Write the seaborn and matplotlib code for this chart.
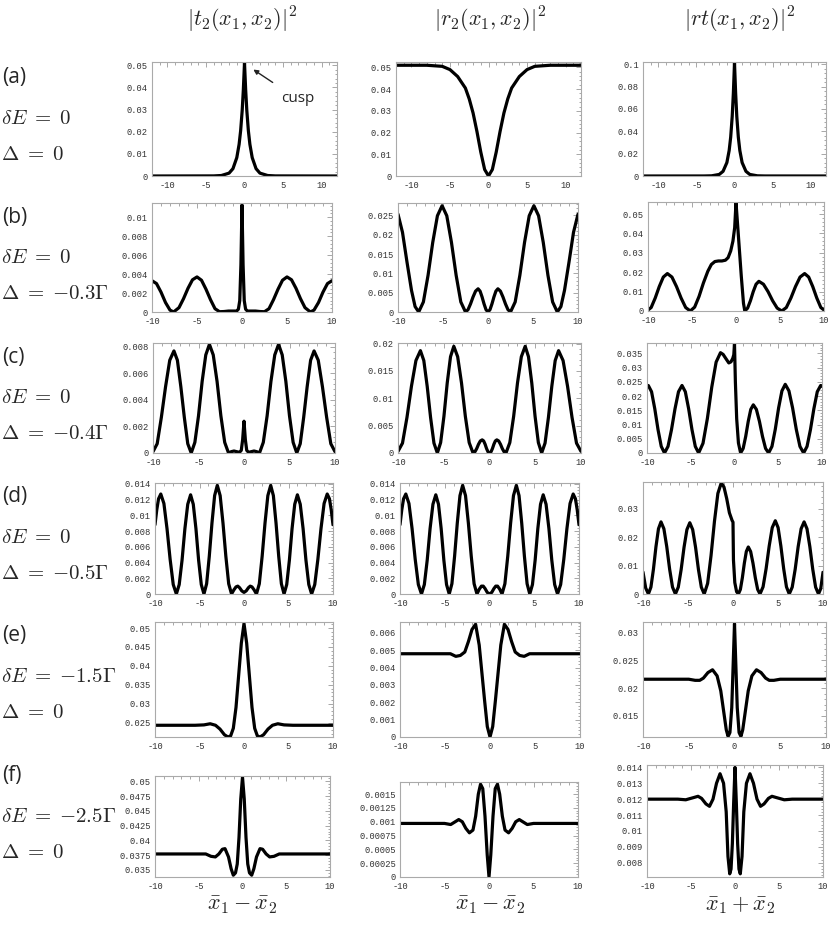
import matplotlib
matplotlib.use("Agg")
import matplotlib.pyplot as plt
import seaborn as sns
from matplotlib.ticker import AutoMinorLocator

# ---- data ----------------------------------------------------------------
# row (a): dE = 0, Delta = 0   (x from -12 to 12)
x_a_t = [-12, -4, -3, -2, -1.5, -1, -0.7, -0.5, -0.3, -0.15, 0, 0.15, 0.3, 0.5, 0.7, 1, 1.5, 2, 3, 4, 12]
y_a_t = [0, 0.00004, 0.00022, 0.0013, 0.0033, 0.0083, 0.0143, 0.0205, 0.0296, 0.039, 0.051,
         0.039, 0.0296, 0.0205, 0.0143, 0.0083, 0.0033, 0.0013, 0.00022, 0.00004, 0]
x_a_r = [-12, -8, -6, -5, -4, -3, -2.5, -2, -1.5, -1, -0.5, 0, 0.5, 1, 1.5, 2, 2.5, 3, 4, 5, 6, 8, 12]
y_a_r = [0.051, 0.051, 0.0505, 0.049, 0.0458, 0.0405, 0.0355, 0.029, 0.0205, 0.011, 0.003, 0,
         0.003, 0.011, 0.0205, 0.029, 0.0355, 0.0405, 0.0458, 0.049, 0.0505, 0.051, 0.051]
x_a_rt = [-12, -4, -3, -2, -1.5, -1, -0.7, -0.5, -0.3, -0.15, 0, 0.15, 0.3, 0.5, 0.7, 1, 1.5, 2, 3, 4, 12]
y_a_rt = [0, 0.00002, 0.00017, 0.0014, 0.0042, 0.012, 0.0228, 0.0348, 0.0534, 0.074, 0.101,
          0.074, 0.0534, 0.0348, 0.0228, 0.012, 0.0042, 0.0014, 0.00017, 0.00002, 0]

# row (b): dE = 0, Delta = -0.3 Gamma
x_b_t = [-10, -9.5, -9, -8.5, -8, -7.6, -7, -6.5, -6, -5.5, -5, -4.5, -4, -3.5, -3, -2.5, -2, -1.5, -1,
         -0.6, -0.4, -0.25, -0.12, 0, 0.12, 0.25, 0.4, 0.6, 1, 1.5, 2, 2.5, 3, 3.5, 4, 4.5, 5, 5.5,
         6, 6.5, 7, 7.6, 8, 8.5, 9, 9.5, 10]
y_b_t = [0.0033, 0.0030, 0.0021, 0.001, 0.0002, 0, 0.00046, 0.0014, 0.0025, 0.0034, 0.0037, 0.00335,
         0.0024, 0.0013, 0.00035, 0.00003, 0.00005, 0.0001, 0.0001, 0.0001, 0.0003, 0.0012, 0.005,
         0.0113, 0.005, 0.0012, 0.0003, 0.0001, 0.0001, 0.0001, 0.00005, 0.00003, 0.00035, 0.0013,
         0.0024, 0.00335, 0.0037, 0.0034, 0.0025, 0.0014, 0.00046, 0, 0.0002, 0.001, 0.0021, 0.0030, 0.0033]
x_b_r = [-10, -9.5, -9.0, -8.5, -8.1, -7.7, -7.18, -6.66, -6.14, -5.62, -5.1, -4.58, -4.06, -3.54,
         -3.02, -2.5, -2.22, -1.94, -1.66, -1.38, -1.1, -0.88, -0.66, -0.44, -0.22, 0,
         0.22, 0.44, 0.66, 0.88, 1.1, 1.38, 1.66, 1.94, 2.22, 2.5, 3.02, 3.54, 4.06, 4.58, 5.1,
         5.62, 6.14, 6.66, 7.18, 7.7, 8.1, 8.5, 9.0, 9.5, 10]
y_b_r = [0.0253, 0.0206, 0.0129, 0.0056, 0.0014, 0, 0.0026, 0.0095, 0.018, 0.0249, 0.0275, 0.0249,
         0.018, 0.0095, 0.0026, 0, 0.0006, 0.0021, 0.0039, 0.0054, 0.006, 0.0054, 0.0039, 0.0021,
         0.0006, 0,
         0.0006, 0.0021, 0.0039, 0.0054, 0.006, 0.0054, 0.0039, 0.0021, 0.0006, 0, 0.0026, 0.0095,
         0.018, 0.0249, 0.0275, 0.0249, 0.018, 0.0095, 0.0026, 0, 0.0014, 0.0056, 0.0129, 0.0206, 0.0253]
x_b_rt = [-10, -9.64, -9.18, -8.72, -8.26, -7.8, -7.28, -6.76, -6.24, -5.72, -5.2, -4.7, -4.2, -3.7,
          -3.2, -2.8, -2.4, -2.0, -1.6, -1.2, -0.9, -0.6, -0.35, -0.15, 0, 0.3, 0.6, 0.85, 1.0, 1.32,
          1.64, 1.96, 2.28, 2.6, 3.12, 3.64, 4.16, 4.68, 5.2, 5.72, 6.24, 6.76, 7.28, 7.8, 8.26, 8.72,
          9.18, 9.64, 10]
y_b_rt = [0.0005, 0.0018, 0.0067, 0.0126, 0.0175, 0.0193, 0.0175, 0.0126, 0.0067, 0.0018, 0, 0.002,
          0.0075, 0.0145, 0.0205, 0.024, 0.0255, 0.0258, 0.0258, 0.0262, 0.0275, 0.031, 0.036, 0.043,
          0.056, 0.037, 0.018, 0.004, 0, 0.0015, 0.0053, 0.01, 0.0138, 0.0153, 0.0138, 0.01, 0.0053,
          0.0015, 0, 0.0018, 0.0067, 0.0126, 0.0175, 0.0193, 0.0175, 0.0126, 0.0067, 0.0018, 0.0005]

# row (c): dE = 0, Delta = -0.4 Gamma
x_c_t = [-10, -9.54, -9.08, -8.62, -8.16, -7.7, -7.32, -6.94, -6.56, -6.18, -5.8, -5.4, -5.0, -4.6,
         -4.2, -3.8, -3.38, -2.96, -2.54, -2.12, -1.7, -1.4, -1.1, -0.8, -0.5, -0.3, -0.15, 0,
         0.15, 0.3, 0.5, 0.8, 1.1, 1.4, 1.7, 2.12, 2.54, 2.96, 3.38, 3.8, 4.2, 4.6, 5.0, 5.4, 5.8,
         6.18, 6.56, 6.94, 7.32, 7.7, 8.16, 8.62, 9.08, 9.54, 10]
y_c_t = [0.0001, 0.0007, 0.0027, 0.005, 0.007, 0.0077, 0.007, 0.005, 0.0027, 0.0007, 0, 0.0008,
         0.0028, 0.0054, 0.0074, 0.0082, 0.0074, 0.0054, 0.0028, 0.0008, 0, 0.0001, 0.00015, 0.0001,
         0.00005, 0.0002, 0.001, 0.0024,
         0.001, 0.0002, 0.00005, 0.0001, 0.00015, 0.0001, 0, 0.0008, 0.0028, 0.0054, 0.0074, 0.0082,
         0.0074, 0.0054, 0.0028, 0.0008, 0, 0.0007, 0.0027, 0.005, 0.007, 0.0077, 0.007, 0.005,
         0.0027, 0.0007, 0.0001]
x_c_r = [-10, -9.51, -9.02, -8.53, -8.04, -7.55, -7.18, -6.81, -6.44, -6.07, -5.7, -5.34, -4.98,
         -4.62, -4.26, -3.9, -3.48, -3.06, -2.64, -2.22, -1.8, -1.6, -1.4, -1.2, -1.0, -0.8, -0.64,
         -0.48, -0.32, -0.16, 0,
         0.16, 0.32, 0.48, 0.64, 0.8, 1.0, 1.2, 1.4, 1.6, 1.8, 2.22, 2.64, 3.06, 3.48, 3.9, 4.26,
         4.62, 4.98, 5.34, 5.7, 6.07, 6.44, 6.81, 7.18, 7.55, 8.04, 8.53, 9.02, 9.51, 10]
y_c_r = [0.0003, 0.0018, 0.0065, 0.0122, 0.0169, 0.0187, 0.0169, 0.0122, 0.0065, 0.0018, 0, 0.0019,
         0.0067, 0.0128, 0.0176, 0.0195, 0.0176, 0.0128, 0.0067, 0.0019, 0, 0.0002, 0.0008, 0.0016,
         0.0022, 0.0024, 0.0022, 0.0016, 0.0008, 0.0002, 0,
         0.0002, 0.0008, 0.0016, 0.0022, 0.0024, 0.0022, 0.0016, 0.0008, 0.0002, 0, 0.0019, 0.0067,
         0.0128, 0.0176, 0.0195, 0.0176, 0.0128, 0.0067, 0.0019, 0, 0.0018, 0.0065, 0.0122, 0.0169,
         0.0187, 0.0169, 0.0122, 0.0065, 0.0018, 0.0003]
x_c_rt = [-10, -9.85, -9.48, -9.11, -8.74, -8.37, -8.0, -7.6, -7.2, -6.8, -6.4, -6.0, -5.62, -5.24,
          -4.86, -4.48, -4.1, -3.6, -3.1, -2.6, -2.1, -1.6, -1.3, -1.0, -0.65, -0.4, -0.2, -0.08, 0,
          0.1, 0.25, 0.45, 0.7, 0.99, 1.28, 1.57, 1.86, 2.15, 2.5, 2.85, 3.2, 3.55, 3.9, 4.28, 4.66,
          5.04, 5.42, 5.8, 6.22, 6.64, 7.06, 7.48, 7.9, 8.29, 8.68, 9.07, 9.46, 9.85, 10]
y_c_rt = [0.0235, 0.0237, 0.0215, 0.0155, 0.0082, 0.0023, 0, 0.0023, 0.0082, 0.0155, 0.0215, 0.0237,
          0.0215, 0.0155, 0.0082, 0.0023, 0, 0.0034, 0.0121, 0.0231, 0.0319, 0.0352, 0.0346, 0.0332,
          0.0316, 0.032, 0.0332, 0.0345, 0.0383, 0.025, 0.012, 0.0035, 0, 0.0016, 0.0058, 0.0111,
          0.0153, 0.0169, 0.0153, 0.0111, 0.0058, 0.0016, 0, 0.0023, 0.0083, 0.0158, 0.0218, 0.0241,
          0.0218, 0.0158, 0.0083, 0.0023, 0, 0.0023, 0.0082, 0.0155, 0.0215, 0.0237, 0.0235]

# row (d): dE = 0, Delta = -0.5 Gamma
x_d_t = [-10, -9.8, -9.6, -9.35, -9.0, -8.65, -8.3, -7.95, -7.6, -7.28, -6.96, -6.64, -6.32, -6.0,
         -5.7, -5.4, -5.1, -4.8, -4.5, -4.2, -3.9, -3.6, -3.3, -3.0, -2.68, -2.36, -2.04, -1.72, -1.4,
         -1.15, -0.9, -0.7, -0.5, -0.25, 0,
         0.25, 0.5, 0.7, 0.9, 1.15, 1.4, 1.72, 2.04, 2.36, 2.68, 3.0, 3.3, 3.6, 3.9, 4.2, 4.5, 4.8,
         5.1, 5.4, 5.7, 6.0, 6.32, 6.64, 6.96, 7.28, 7.6, 7.95, 8.3, 8.65, 9.0, 9.35, 9.6, 9.8, 10]
y_d_t = [0.0088, 0.0107, 0.0121, 0.0127, 0.0115, 0.0083, 0.0044, 0.0012, 0, 0.0012, 0.0043, 0.0083,
         0.0114, 0.0126, 0.0114, 0.0083, 0.0043, 0.0012, 0, 0.0013, 0.0048, 0.009, 0.0125, 0.0138,
         0.0125, 0.009, 0.0048, 0.0013, 0, 0.0005, 0.0009, 0.001, 0.0008, 0.0004, 0.0002,
         0.0004, 0.0008, 0.001, 0.0009, 0.0005, 0, 0.0013, 0.0048, 0.009, 0.0125, 0.0138, 0.0125,
         0.009, 0.0048, 0.0013, 0, 0.0012, 0.0043, 0.0083, 0.0114, 0.0126, 0.0114, 0.0083, 0.0043,
         0.0012, 0, 0.0012, 0.0044, 0.0083, 0.0115, 0.0127, 0.0121, 0.0107, 0.0088]
x_d_r = [-10, -9.8, -9.6, -9.35, -9.0, -8.65, -8.3, -7.95, -7.6, -7.28, -6.96, -6.64, -6.32, -6.0,
         -5.7, -5.4, -5.1, -4.8, -4.5, -4.2, -3.9, -3.6, -3.3, -3.0, -2.68, -2.36, -2.04, -1.72, -1.4,
         -1.15, -0.9, -0.7, -0.5, -0.25, 0,
         0.25, 0.5, 0.7, 0.9, 1.15, 1.4, 1.72, 2.04, 2.36, 2.68, 3.0, 3.3, 3.6, 3.9, 4.2, 4.5, 4.8,
         5.1, 5.4, 5.7, 6.0, 6.32, 6.64, 6.96, 7.28, 7.6, 7.95, 8.3, 8.65, 9.0, 9.35, 9.6, 9.8, 10]
y_d_r = [0.0088, 0.0107, 0.0121, 0.0127, 0.0115, 0.0083, 0.0044, 0.0012, 0, 0.0012, 0.0043, 0.0083,
         0.0114, 0.0126, 0.0114, 0.0083, 0.0043, 0.0012, 0, 0.0013, 0.0048, 0.009, 0.0125, 0.0138,
         0.0125, 0.009, 0.0048, 0.0013, 0, 0.0006, 0.001, 0.001, 0.0007, 0.0002, 0,
         0.0002, 0.0007, 0.001, 0.001, 0.0006, 0, 0.0013, 0.0048, 0.009, 0.0125, 0.0138, 0.0125,
         0.009, 0.0048, 0.0013, 0, 0.0012, 0.0043, 0.0083, 0.0114, 0.0126, 0.0114, 0.0083, 0.0043,
         0.0012, 0, 0.0012, 0.0044, 0.0083, 0.0115, 0.0127, 0.0121, 0.0107, 0.0088]
x_d_rt = [-10, -9.7, -9.4, -9.12, -8.84, -8.56, -8.28, -8.0, -7.68, -7.36, -7.04, -6.72, -6.4, -6.08,
          -5.76, -5.44, -5.12, -4.8, -4.48, -4.16, -3.84, -3.52, -3.2, -2.82, -2.44, -2.06, -1.68,
          -1.3, -1.0, -0.7, -0.4, -0.1, 0, 0.05, 0.2, 0.4, 0.6, 0.82, 1.04, 1.26, 1.48, 1.7, 1.96,
          2.22, 2.48, 2.74, 3.0, 3.34, 3.68, 4.02, 4.36, 4.7, 5.01, 5.32, 5.63, 5.94, 6.25, 6.58,
          6.91, 7.24, 7.57, 7.9, 8.22, 8.54, 8.86, 9.18, 9.5, 9.75, 10]
y_d_rt = [0.0077, 0.0021, 0, 0.0024, 0.0087, 0.0166, 0.0229, 0.0253, 0.0229, 0.0166, 0.0087, 0.0024,
          0, 0.0024, 0.0086, 0.0164, 0.0226, 0.025, 0.0226, 0.0164, 0.0086, 0.0024, 0, 0.0037,
          0.0135, 0.0255, 0.0353, 0.039, 0.0375, 0.0335, 0.0285, 0.0258, 0.0252, 0.012, 0.004,
          0.0008, 0, 0.0016, 0.0057, 0.0108, 0.0149, 0.0165, 0.0149, 0.0108, 0.0057, 0.0016, 0,
          0.0025, 0.0089, 0.0168, 0.0233, 0.0257, 0.0233, 0.0168, 0.0089, 0.0025, 0, 0.0024, 0.0087,
          0.0166, 0.0229, 0.0253, 0.0229, 0.0166, 0.0087, 0.0024, 0, 0.0019, 0.0076]

# row (e): dE = -1.5 Gamma, Delta = 0
x_e_t = [-10, -5.5, -4.5, -3.8, -3.2, -2.7, -2.2, -1.8, -1.5, -1.2, -0.9, -0.6, -0.3, 0, 0.3, 0.6, 0.9,
         1.2, 1.5, 1.8, 2.2, 2.7, 3.2, 3.8, 4.5, 5.5, 10]
y_e_t = [0.0243, 0.0243, 0.0244, 0.0247, 0.0243, 0.0233, 0.0218, 0.0212, 0.0215, 0.0235, 0.029, 0.0375,
         0.046, 0.0512, 0.046, 0.0375, 0.029, 0.0235, 0.0215, 0.0212, 0.0218, 0.0233, 0.0243, 0.0247,
         0.0244, 0.0243, 0.0243]
x_e_r = [-10, -5, -4.4, -3.8, -3.3, -2.8, -2.4, -2, -1.6, -1.2, -0.9, -0.6, -0.3, 0, 0.3, 0.6, 0.9, 1.2,
         1.6, 2, 2.4, 2.8, 3.3, 3.8, 4.4, 5, 10]
y_e_r = [0.0048, 0.0048, 0.0048, 0.00465, 0.0047, 0.0049, 0.0055, 0.0062, 0.0065, 0.0053, 0.0037,
         0.0021, 0.0006, 0, 0.0006, 0.0021, 0.0037, 0.0053, 0.0065, 0.0062, 0.0055, 0.0049, 0.0047,
         0.00465, 0.0048, 0.0048, 0.0048]
x_e_rt = [-10, -5, -4.3, -3.8, -3.4, -2.9, -2.4, -1.9, -1.5, -1.2, -0.9, -0.7, -0.5, -0.3, -0.15, 0,
          0.15, 0.3, 0.5, 0.7, 0.9, 1.2, 1.5, 1.9, 2.4, 2.9, 3.4, 3.8, 4.3, 5, 10]
y_e_rt = [0.0216, 0.0216, 0.0214, 0.0214, 0.0218, 0.0228, 0.0233, 0.0222, 0.0195, 0.016, 0.0125,
          0.0113, 0.012, 0.0165, 0.024, 0.0316, 0.024, 0.0165, 0.012, 0.0113, 0.0125, 0.016, 0.0195,
          0.0222, 0.0233, 0.0228, 0.0218, 0.0214, 0.0214, 0.0216, 0.0216]

# row (f): dE = -2.5 Gamma, Delta = 0
x_f_t = [-10, -4.2, -3.6, -3.1, -2.7, -2.3, -2, -1.6, -1.3, -1.05, -0.8, -0.6, -0.4, -0.2, 0, 0.2, 0.4,
         0.6, 0.8, 1.05, 1.3, 1.6, 2, 2.3, 2.7, 3.1, 3.6, 4.2, 10]
y_f_t = [0.0377, 0.0377, 0.0373, 0.0372, 0.0377, 0.0385, 0.0386, 0.0372, 0.0352, 0.0341, 0.0345,
         0.036, 0.0405, 0.047, 0.0507, 0.047, 0.0405, 0.036, 0.0345, 0.0341, 0.0352, 0.0372, 0.0386,
         0.0385, 0.0377, 0.0372, 0.0373, 0.0377, 0.0377]
x_f_r = [-10, -5, -4.3, -3.8, -3.4, -3, -2.6, -2.2, -1.8, -1.5, -1.2, -0.95, -0.7, -0.45, -0.2, 0, 0.2,
         0.45, 0.7, 0.95, 1.2, 1.5, 1.8, 2.2, 2.6, 3, 3.4, 3.8, 4.3, 5, 10]
y_f_r = [0.00097, 0.00097, 0.00095, 0.001, 0.00104, 0.001, 0.00088, 0.0008, 0.00085, 0.0011, 0.0015,
         0.00168, 0.0016, 0.0011, 0.0004, 0, 0.0004, 0.0011, 0.0016, 0.00168, 0.0015, 0.0011, 0.00085,
         0.0008, 0.00088, 0.001, 0.00104, 0.001, 0.00095, 0.00097, 0.00097]
x_f_rt = [-10, -6.5, -5.6, -4.7, -4.2, -3.8, -3.3, -2.9, -2.5, -2.1, -1.7, -1.3, -1, -0.8, -0.6, -0.45,
          -0.3, -0.15, 0, 0.15, 0.3, 0.45, 0.6, 0.8, 1, 1.3, 1.7, 2.1, 2.5, 2.9, 3.3, 3.8, 4.2, 4.7,
          5.6, 6.5, 10]
y_f_rt = [0.012, 0.012, 0.01196, 0.0121, 0.01218, 0.01205, 0.0117, 0.01155, 0.012, 0.013, 0.0136,
          0.013, 0.0112, 0.0084, 0.0073, 0.0076, 0.0092, 0.0118, 0.014, 0.0118, 0.0092, 0.0076, 0.0073,
          0.0084, 0.0112, 0.013, 0.0136, 0.013, 0.012, 0.01155, 0.0117, 0.01205, 0.01218, 0.0121,
          0.01196, 0.012, 0.012]

# tick values / labels
xt_wide = [-10, -5, 0, 5, 10]
yt_a_t = [0, 0.01, 0.02, 0.03, 0.04, 0.05]
yl_a_t = ["0", "0.01", "0.02", "0.03", "0.04", "0.05"]
yt_a_rt = [0, 0.02, 0.04, 0.06, 0.08, 0.1]
yl_a_rt = ["0", "0.02", "0.04", "0.06", "0.08", "0.1"]
yt_b_t = [0, 0.002, 0.004, 0.006, 0.008, 0.01]
yl_b_t = ["0", "0.002", "0.004", "0.006", "0.008", "0.01"]
yt_b_r = [0, 0.005, 0.01, 0.015, 0.02, 0.025]
yl_b_r = ["0", "0.005", "0.01", "0.015", "0.02", "0.025"]
yt_b_rt = [0, 0.01, 0.02, 0.03, 0.04, 0.05]
yl_b_rt = ["0", "0.01", "0.02", "0.03", "0.04", "0.05"]
yt_c_t = [0, 0.002, 0.004, 0.006, 0.008]
yl_c_t = ["0", "0.002", "0.004", "0.006", "0.008"]
yt_c_r = [0, 0.005, 0.01, 0.015, 0.02]
yl_c_r = ["0", "0.005", "0.01", "0.015", "0.02"]
yt_c_rt = [0, 0.005, 0.01, 0.015, 0.02, 0.025, 0.03, 0.035]
yl_c_rt = ["0", "0.005", "0.01", "0.015", "0.02", "0.025", "0.03", "0.035"]
yt_d = [0, 0.002, 0.004, 0.006, 0.008, 0.01, 0.012, 0.014]
yl_d = ["0", "0.002", "0.004", "0.006", "0.008", "0.01", "0.012", "0.014"]
yt_d_rt = [0, 0.01, 0.02, 0.03]
yl_d_rt = ["0", "0.01", "0.02", "0.03"]
yt_e_t = [0.025, 0.03, 0.035, 0.04, 0.045, 0.05]
yl_e_t = ["0.025", "0.03", "0.035", "0.04", "0.045", "0.05"]
yt_e_r = [0, 0.001, 0.002, 0.003, 0.004, 0.005, 0.006]
yl_e_r = ["0", "0.001", "0.002", "0.003", "0.004", "0.005", "0.006"]
yt_e_rt = [0.015, 0.02, 0.025, 0.03]
yl_e_rt = ["0.015", "0.02", "0.025", "0.03"]
yt_f_t = [0.035, 0.0375, 0.04, 0.0425, 0.045, 0.0475, 0.05]
yl_f_t = ["0.035", "0.0375", "0.04", "0.0425", "0.045", "0.0475", "0.05"]
yt_f_r = [0, 0.00025, 0.0005, 0.00075, 0.001, 0.00125, 0.0015]
yl_f_r = ["0", "0.00025", "0.0005", "0.00075", "0.001", "0.00125", "0.0015"]
yt_f_rt = [0.008, 0.009, 0.01, 0.011, 0.012, 0.013, 0.014]
yl_f_rt = ["0.008", "0.009", "0.01", "0.011", "0.012", "0.013", "0.014"]

col_titles = [r"$|t_2(x_1,x_2)|^2$", r"$|r_2(x_1,x_2)|^2$", r"$|rt(x_1,x_2)|^2$"]
row_tags = ["(a)", "(b)", "(c)", "(d)", "(e)", "(f)"]
row_dE = [r"$\delta E\;=\;0$", r"$\delta E\;=\;0$", r"$\delta E\;=\;0$", r"$\delta E\;=\;0$",
          r"$\delta E\;=\;{-}1.5\Gamma$", r"$\delta E\;=\;{-}2.5\Gamma$"]
row_Delta = [r"$\Delta\;=\;0$", r"$\Delta\;=\;{-}0.3\Gamma$", r"$\Delta\;=\;{-}0.4\Gamma$",
             r"$\Delta\;=\;{-}0.5\Gamma$", r"$\Delta\;=\;0$", r"$\Delta\;=\;0$"]
bottom_labels = [r"$\bar{x}_1-\bar{x}_2$", r"$\bar{x}_1-\bar{x}_2$", r"$\bar{x}_1+\bar{x}_2$"]

# ---- panels: data, ticks, limits, frame box in pixels (left, top, right, bottom)
panels = [
    (x_a_t, y_a_t, yt_a_t, yl_a_t, (0, 0.0515), (-12, 12), (152, 62, 337, 176)),
    (x_a_r, y_a_r, yt_a_t, yl_a_t, (0, 0.0525), (-12, 12), (396, 62, 581, 176)),
    (x_a_rt, y_a_rt, yt_a_rt, yl_a_rt, (0, 0.102), (-12, 12), (643, 62, 826, 176)),
    (x_b_t, y_b_t, yt_b_t, yl_b_t, (0, 0.0115), (-10, 10), (152, 203, 332, 312)),
    (x_b_r, y_b_r, yt_b_r, yl_b_r, (0, 0.0282), (-10, 10), (398, 203, 578, 312)),
    (x_b_rt, y_b_rt, yt_b_rt, yl_b_rt, (0, 0.0562), (-10, 10), (648, 202, 824, 311)),
    (x_c_t, y_c_t, yt_c_t, yl_c_t, (0, 0.0083), (-10, 10), (153, 343, 335, 453)),
    (x_c_r, y_c_r, yt_c_r, yl_c_r, (0, 0.0201), (-10, 10), (398, 343, 581, 453)),
    (x_c_rt, y_c_rt, yt_c_rt, yl_c_rt, (0, 0.0386), (-10, 10), (647, 343, 822, 453)),
    (x_d_t, y_d_t, yt_d, yl_d, (0, 0.0141), (-10, 10), (155, 483, 333, 594)),
    (x_d_r, y_d_r, yt_d, yl_d, (0, 0.0141), (-10, 10), (400, 483, 579, 594)),
    (x_d_rt, y_d_rt, yt_d_rt, yl_d_rt, (0, 0.0393), (-10, 10), (643, 482, 823, 594)),
    (x_e_t, y_e_t, yt_e_t, yl_e_t, (0.0212, 0.0516), (-10, 10), (155, 622, 333, 737)),
    (x_e_r, y_e_r, yt_e_r, yl_e_r, (0, 0.00663), (-10, 10), (400, 622, 580, 737)),
    (x_e_rt, y_e_rt, yt_e_rt, yl_e_rt, (0.0112, 0.0319), (-10, 10), (643, 622, 826, 737)),
    (x_f_t, y_f_t, yt_f_t, yl_f_t, (0.0338, 0.0509), (-10, 10), (155, 776, 330, 877)),
    (x_f_r, y_f_r, yt_f_r, yl_f_r, (0, 0.00172), (-10, 10), (400, 782, 578, 877)),
    (x_f_rt, y_f_rt, yt_f_rt, yl_f_rt, (0.0071, 0.01415), (-10, 10), (647, 765, 823, 877)),
]

W, H = 830, 925
sns.set_style("white")
plt.rcParams["mathtext.fontset"] = "cm"

fig = plt.figure(figsize=(W / 100, H / 100), dpi=100)

for xs, ys, yt, yl, ylim, xlim, (l, t, r, b) in panels:
    ax = fig.add_axes([l / W, 1 - b / H, (r - l) / W, (b - t) / H])
    sns.lineplot(x=xs, y=ys, ax=ax, color="black", linewidth=2.3, errorbar=None)
    ax.set_xlim(xlim)
    ax.set_ylim(ylim)
    ax.set_xticks(xt_wide)
    ax.set_xticklabels([str(v) for v in xt_wide])
    ax.set_yticks(yt)
    ax.set_yticklabels(yl)
    ax.xaxis.set_minor_locator(AutoMinorLocator(5))
    ax.yaxis.set_minor_locator(AutoMinorLocator(5))
    ax.tick_params(which="both", direction="in", top=True, right=True, color="#999999",
                   width=0.6, labelsize=6.3, labelcolor="#333333")
    ax.tick_params(axis="x", pad=3.5)
    ax.tick_params(axis="y", pad=3)
    ax.tick_params(which="major", length=3.5)
    ax.tick_params(which="minor", length=1.8)
    for lab in ax.get_xticklabels() + ax.get_yticklabels():
        lab.set_family("Liberation Mono")
    for sp in ax.spines.values():
        sp.set_color("#aaaaaa")
        sp.set_linewidth(0.8)
    ax.set_xlabel("")
    ax.set_ylabel("")

# column titles and bottom labels
for xc, title, blab in zip([242, 490, 740], col_titles, bottom_labels):
    fig.text(xc / W, 1 - 20 / H, title, ha="center", va="center", fontsize=16)
    fig.text(xc / W, 1 - 905 / H, blab, ha="center", va="center", fontsize=16)

# row annotations
tag_y = [78, 217, 357, 497, 636, 776]
for ty, tag, de, dl in zip(tag_y, row_tags, row_dE, row_Delta):
    fig.text(2 / W, 1 - ty / H, tag, ha="left", va="center", fontsize=15, family="Open Sans")
    fig.text(1 / W, 1 - (ty + 40) / H, de, ha="left", va="center", fontsize=15)
    fig.text(1 / W, 1 - (ty + 76) / H, dl, ha="left", va="center", fontsize=15)

# cusp annotation
fig.text(298 / W, 1 - 98 / H, "cusp", ha="center", va="center", fontsize=11, family="Open Sans")
fig.add_artist(matplotlib.patches.FancyArrowPatch((275 / W, 1 - 84 / H), (251 / W, 1 - 68 / H),
                                                  transform=fig.transFigure, arrowstyle="-|>",
                                                  mutation_scale=7, color="#222222", lw=1))

fig.savefig("out.png", dpi=100)
